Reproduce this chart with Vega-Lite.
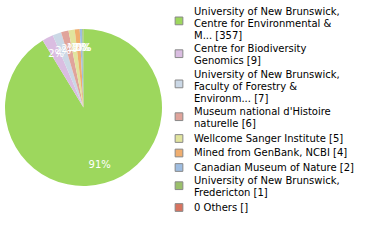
{
  "$schema": "https://vega.github.io/schema/vega-lite/v6.json",
  "width": 167,
  "height": 215,
  "padding": 0,
  "autosize": {"type": "pad"},
  "background": "white",
  "config": {
    "view": {"stroke": null},
    "style": {"guide-label": {"lineHeight": 12.3}}
  },
  "data": {
    "values": [
      {"source": "University of New Brunswick,\nCentre for Environmental &\nM... [357]", "count": 357, "pct": "91%"},
      {"source": "Centre for Biodiversity\nGenomics [9]", "count": 9, "pct": "2%"},
      {"source": "University of New Brunswick,\nFaculty of Forestry &\nEnvironm... [7]", "count": 7, "pct": "2%"},
      {"source": "Museum national d'Histoire\nnaturelle [6]", "count": 6, "pct": "2%"},
      {"source": "Wellcome Sanger Institute [5]", "count": 5, "pct": "1%"},
      {"source": "Mined from GenBank, NCBI [4]", "count": 4, "pct": "1%"},
      {"source": "Canadian Museum of Nature [2]", "count": 2, "pct": "1%"},
      {"source": "University of New Brunswick,\nFredericton [1]", "count": 1, "pct": "0%"},
      {"source": "0 Others []", "count": 0, "pct": "0%"}
    ]
  },
  "encoding": {
    "theta": {"field": "count", "type": "quantitative", "stack": true},
    "order": {"field": "count", "type": "quantitative", "sort": "descending"},
    "color": {
      "field": "source",
      "type": "nominal",
      "scale": {
        "domain": [
          "University of New Brunswick,\nCentre for Environmental &\nM... [357]",
          "Centre for Biodiversity\nGenomics [9]",
          "University of New Brunswick,\nFaculty of Forestry &\nEnvironm... [7]",
          "Museum national d'Histoire\nnaturelle [6]",
          "Wellcome Sanger Institute [5]",
          "Mined from GenBank, NCBI [4]",
          "Canadian Museum of Nature [2]",
          "University of New Brunswick,\nFredericton [1]",
          "0 Others []"
        ],
        "range": ["#9dd75d", "#dabde1", "#cbd8e6", "#e0a49b", "#e1e49d", "#f0ae6f", "#9ebde1", "#9bc06b", "#d9735f"]
      },
      "legend": {
        "title": null,
        "orient": "none",
        "legendX": 174,
        "legendY": 6.5,
        "symbolType": "square",
        "symbolSize": 60,
        "symbolStrokeColor": "#888888",
        "symbolStrokeWidth": 1,
        "symbolOpacity": 1,
        "labelFont": "DejaVu Sans",
        "labelFontSize": 10,
        "labelColor": "#000000",
        "labelLimit": 300,
        "labelOffset": 10,
        "rowPadding": 2.5,
        "labelExpr": "split(datum.label, '\\n')",
        "encoding": {
          "symbols": {
            "y": {"value": {"expr": "datum.size / 2 + (length(split(datum.label, '\\n')) - 1) * 4.7"}}
          }
        }
      }
    }
  },
  "layer": [
    {"mark": {"type": "arc", "outerRadius": 78.5}},
    {
      "mark": {"type": "text", "radius": 60, "color": "white", "font": "DejaVu Sans", "fontSize": 10},
      "encoding": {"text": {"field": "pct", "type": "nominal"}, "color": {"value": "white"}}
    }
  ]
}
